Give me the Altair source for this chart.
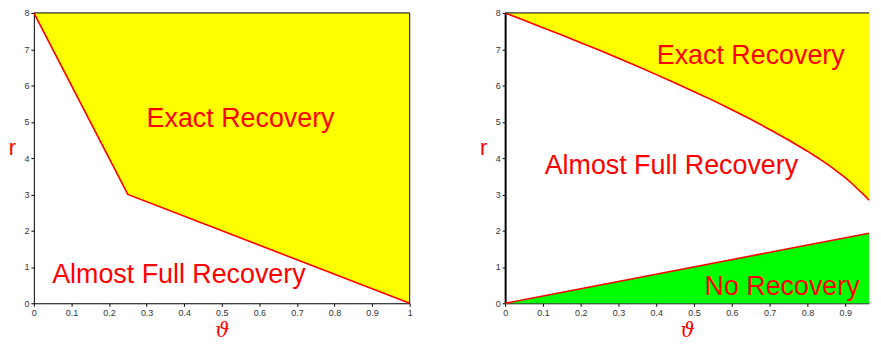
import altair as alt
import pandas as pd

# Left panel boundary
left_theta = [0.0, 0.25, 1.0]
left_r = [8.0, 3.0, 0.0]

# Right panel upper boundary
right_theta = [0.0, 0.05, 0.1, 0.15, 0.2, 0.25, 0.3, 0.35, 0.4, 0.45, 0.5, 0.55, 0.6, 0.65,
               0.7, 0.75, 0.8, 0.83, 0.86, 0.88, 0.9, 0.92, 0.94, 0.955, 0.963]
right_upper = [8.0, 7.8, 7.59, 7.39, 7.18, 6.97, 6.75, 6.53, 6.30, 6.07, 5.83, 5.59, 5.33, 5.07,
               4.79, 4.50, 4.19, 3.99, 3.78, 3.62, 3.46, 3.28, 3.08, 2.93, 2.84]
# Right panel lower boundary
lower_theta = [0.0, 0.963]
lower_r = [0.0, 1.93]

R_MAX = 8
X_MAX_LEFT = 1.0
X_MAX_RIGHT = 0.963
X_TICKS = [0, 0.1, 0.2, 0.3, 0.4, 0.5, 0.6, 0.7, 0.8, 0.9, 1]
Y_TICKS = [0, 1, 2, 3, 4, 5, 6, 7, 8]

left_labels = pd.DataFrame({
    "t": [0.55, 0.386],
    "r": [5.07, 0.78],
    "label": ["Exact Recovery", "Almost Full Recovery"],
})
right_labels = pd.DataFrame({
    "t": [0.65, 0.44, 0.733],
    "r": [6.8, 3.77, 0.45],
    "label": ["Exact Recovery", "Almost Full Recovery", "No Recovery"],
})

RED = "#ff0000"
TICK_FONT = "Liberation Sans"
PLOT_H = 292


def xaxis():
    return alt.Axis(values=X_TICKS, title="ϑ", format="~g", labelFontSize=9, labelColor="#333333",
                    labelFont=TICK_FONT, labelOverlap=False, tickSize=3, tickColor="black", grid=False,
                    domainColor="black", labelPadding=2, labelFlush=False,
                    titleFont="DejaVu Serif", titleFontStyle="italic", titleFontWeight="normal",
                    titleFontSize=20, titleColor=RED, titleBaseline="middle", titleY=27)


def yaxis(domain_width=1):
    return alt.Axis(values=Y_TICKS, title="r", format="~g", labelFontSize=9, labelColor="#333333",
                    labelFont=TICK_FONT, labelOverlap=False, tickSize=3, tickColor="black", grid=False,
                    domainColor="black", domainWidth=domain_width, labelPadding=2,
                    titleFont="Liberation Sans", titleFontWeight="normal", titleFontSize=22,
                    titleColor=RED, titleAngle=0, titleAlign="center", titleBaseline="middle",
                    titleX=-22, titleY=135)


def scales(xmax):
    return (alt.Scale(domain=[0, xmax], nice=False), alt.Scale(domain=[0, R_MAX], nice=False))


# ---- Left panel ----
ldf = pd.DataFrame({"t": left_theta, "r": left_r, "top": [R_MAX] * len(left_theta)})
lxs, lys = scales(X_MAX_LEFT)
LX = alt.X("t:Q", scale=lxs, axis=xaxis())
LY = alt.Y("r:Q", scale=lys, axis=yaxis())

l_area = alt.Chart(ldf).mark_area(color="#ffff00", opacity=1).encode(x=LX, y=LY, y2="top:Q")
l_line = alt.Chart(ldf).mark_line(color=RED, strokeWidth=1.6).encode(x=LX, y=LY)
l_top = alt.Chart(pd.DataFrame({"r": [R_MAX]})).mark_rule(color="black", strokeWidth=1).encode(y=LY)
l_right = alt.Chart(pd.DataFrame({"t": [X_MAX_LEFT]})).mark_rule(color="black", strokeWidth=1).encode(x=LX)
l_text = alt.Chart(left_labels).mark_text(color=RED, fontSize=27, font="Liberation Sans").encode(
    x=LX, y=LY, text="label:N")
left = alt.layer(l_area, l_line, l_top, l_right, l_text).properties(width=378, height=PLOT_H)

# ---- Right panel ----
rdf = pd.DataFrame({"t": right_theta, "r": right_upper, "top": [R_MAX] * len(right_theta)})
gdf = pd.DataFrame({"t": lower_theta, "r": lower_r, "bottom": [0] * len(lower_theta)})
rxs, rys = scales(X_MAX_RIGHT)
RX = alt.X("t:Q", scale=rxs, axis=xaxis())
RY = alt.Y("r:Q", scale=rys, axis=yaxis(2))

r_yellow = alt.Chart(rdf).mark_area(color="#ffff00", opacity=1).encode(x=RX, y=RY, y2="top:Q")
r_green = alt.Chart(gdf).mark_area(color="#00ff00", opacity=1).encode(x=RX, y=RY, y2="bottom:Q")
r_line1 = alt.Chart(rdf).mark_line(color=RED, strokeWidth=1.6).encode(x=RX, y=RY)
r_line2 = alt.Chart(gdf).mark_line(color=RED, strokeWidth=1.6).encode(x=RX, y=RY)
r_top = alt.Chart(pd.DataFrame({"r": [R_MAX]})).mark_rule(color="black", strokeWidth=1).encode(y=RY)
r_text = alt.Chart(right_labels).mark_text(color=RED, fontSize=27, font="Liberation Sans").encode(
    x=RX, y=RY, text="label:N")
right = alt.layer(r_yellow, r_green, r_line1, r_line2, r_top, r_text).properties(width=366, height=PLOT_H)

chart = alt.hconcat(left, right, spacing=66).properties(padding=0).configure_view(stroke=None)

chart.save("out.html", embed_options={"renderer": "svg", "actions": False})
